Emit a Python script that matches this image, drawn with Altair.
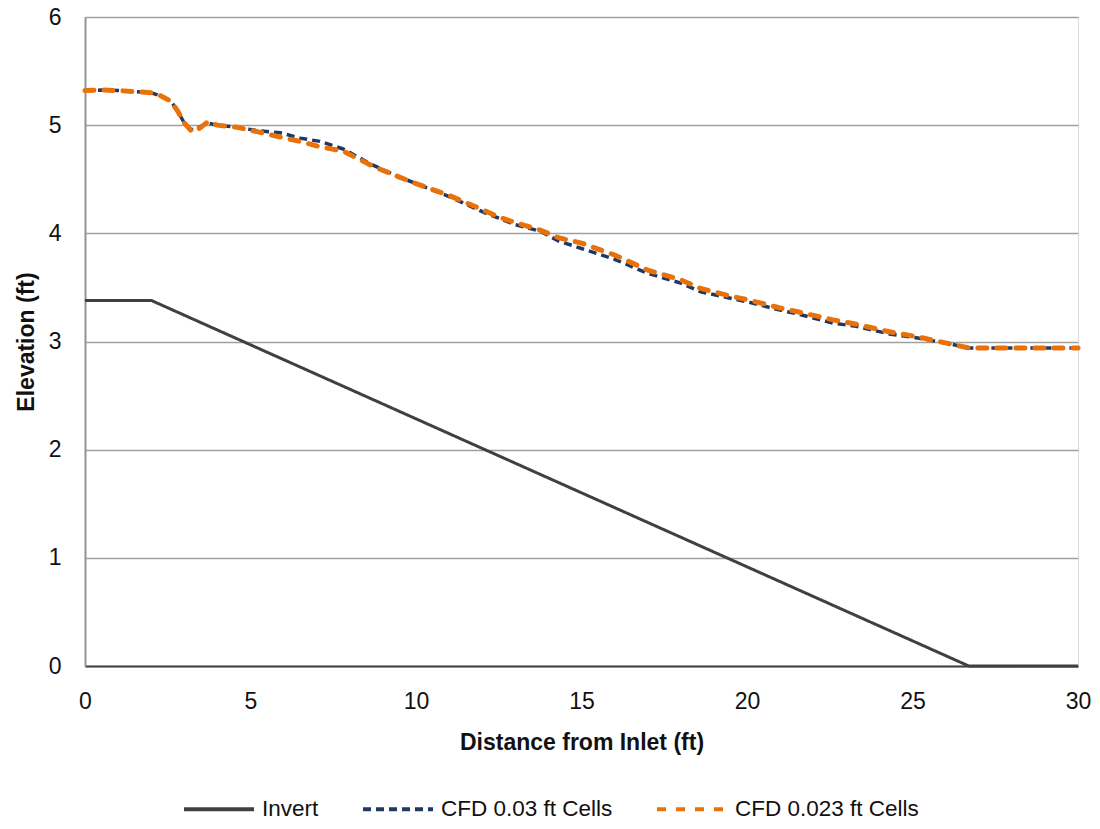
import altair as alt
import pandas as pd

# Invert profile
inv_x = [0, 2.0, 26.7, 30.0]
inv_y = [3.38, 3.38, 0.0, 0.0]

# CFD water surface profiles
cfd_x = [0, 0.5, 1.0, 1.5, 2.0, 2.3, 2.6, 2.8, 3.0, 3.2, 3.3, 3.5, 3.7, 4.0, 4.6, 5.2, 5.9,
         6.5, 7.1, 7.8, 8.7, 9.5, 10.0, 11.0, 12.0, 12.5, 13.0, 13.75, 14.3, 15.0, 16.0,
         17.0, 18.0, 18.6, 19.5, 20.1, 21.0, 21.6, 22.6, 23.3, 24.3, 25.2, 26.1, 26.7,
         27.0, 28.0, 29.0, 30.0]
cfd03_y = [5.32, 5.325, 5.32, 5.31, 5.30, 5.27, 5.22, 5.13, 5.02, 4.96, 4.96, 4.99, 5.02,
           5.00, 4.98, 4.95, 4.93, 4.88, 4.85, 4.78, 4.63, 4.52, 4.46, 4.34, 4.20, 4.14,
           4.08, 4.02, 3.93, 3.86, 3.76, 3.63, 3.54, 3.46, 3.40, 3.36, 3.29, 3.25, 3.17,
           3.14, 3.07, 3.03, 2.98, 2.94, 2.94, 2.94, 2.94, 2.94]
cfd023_y = [5.32, 5.325, 5.32, 5.31, 5.30, 5.27, 5.22, 5.13, 5.02, 4.95, 4.94, 4.98, 5.03,
            5.00, 4.98, 4.94, 4.89, 4.85, 4.80, 4.76, 4.62, 4.52, 4.46, 4.35, 4.22, 4.15,
            4.10, 4.03, 3.96, 3.91, 3.80, 3.66, 3.57, 3.49, 3.42, 3.38, 3.31, 3.27, 3.20,
            3.16, 3.09, 3.04, 2.98, 2.94, 2.94, 2.94, 2.94, 2.94]

series_names = ["Invert", "CFD 0.03 ft Cells", "CFD 0.023 ft Cells"]
series_colors = ["#404040", "#1F3864", "#E8710A"]
series_dash = [[1, 0], [8, 5], [9, 10]]
series_width = [3, 3.5, 5]
series_cap = ["butt", "butt", "round"]

rows = []
for x, y in zip(inv_x, inv_y):
    rows.append({"x": x, "y": y, "series": series_names[0]})
for x, y in zip(cfd_x, cfd03_y):
    rows.append({"x": x, "y": y, "series": series_names[1]})
for x, y in zip(cfd_x, cfd023_y):
    rows.append({"x": x, "y": y, "series": series_names[2]})
df = pd.DataFrame(rows)

FONT = "Liberation Sans"
TXT = "#111111"

x_enc = alt.X("x:Q", scale=alt.Scale(domain=[0, 30], nice=False),
              axis=alt.Axis(title="Distance from Inlet (ft)", values=[0, 5, 10, 15, 20, 25, 30],
                            grid=False, ticks=False, labelPadding=24, labelFontSize=23,
                            labelFont=FONT, labelColor=TXT, titleFont=FONT,
                            titleFontSize=23, titleFontWeight="bold", titleColor=TXT,
                            titlePadding=18, domainColor="#404040", domainWidth=2,
                            labelFlush=False))
y_enc = alt.Y("y:Q", scale=alt.Scale(domain=[0, 6], nice=False),
              axis=alt.Axis(title="Elevation (ft)", values=[0, 1, 2, 3, 4, 5, 6],
                            grid=True, gridColor="#A0A0A0", gridWidth=1.5, ticks=False,
                            labelPadding=24, labelFontSize=23, labelFont=FONT,
                            labelColor=TXT, titleFont=FONT, titleFontSize=23,
                            titleFontWeight="bold", titleColor=TXT, titlePadding=10,
                            domainColor="#8C95A0", domainWidth=2))

color_enc = alt.Color("series:N", scale=alt.Scale(domain=series_names, range=series_colors),
                      legend=alt.Legend(title=None, orient="none", direction="horizontal",
                                        legendX=97, legendY=755,
                                        symbolType="stroke", symbolSize=4900,
                                        symbolStrokeWidth=4, labelLimit=400,
                                        labelFont=FONT, labelFontSize=22.5,
                                        labelColor=TXT, columnPadding=36,
                                        labelOffset=6))
dash_enc = alt.StrokeDash("series:N", scale=alt.Scale(domain=series_names, range=series_dash))

layers = []
for name, w, cap in zip(series_names, series_width, series_cap):
    layers.append(
        alt.Chart(df).transform_filter(alt.datum.series == name).mark_line(
            clip=False, strokeCap=cap, strokeWidth=w
        ).encode(x=x_enc, y=y_enc, color=color_enc, strokeDash=dash_enc)
    )

chart = alt.layer(*layers).properties(
    width=993, height=649,
    autosize=alt.AutoSizeParams(type="none"),
    padding={"left": 77, "top": 9, "right": 14, "bottom": 154},
).configure_view(stroke="#2E4A70", strokeWidth=2).configure(background="white")

chart.save("out.html", embed_options={"renderer": "svg", "actions": False})
